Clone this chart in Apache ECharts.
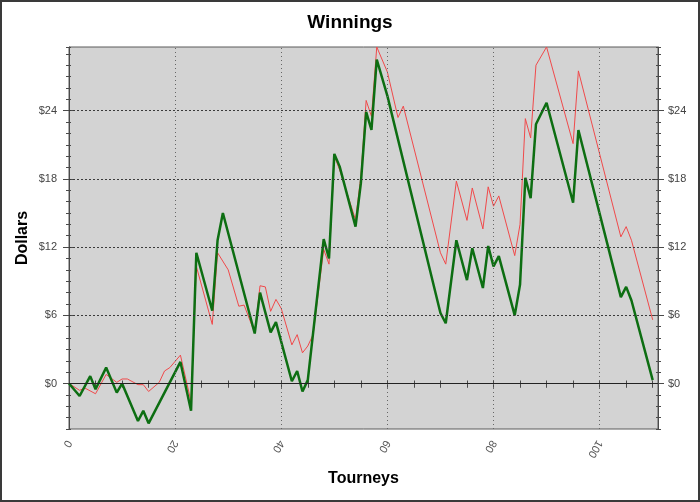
<!DOCTYPE html>
<html>
<head>
<meta charset="utf-8">
<script src="https://cdn.jsdelivr.net/npm/echarts@6/dist/echarts.min.js"></script>
<style>
  html, body { margin: 0; padding: 0; background: #fff; }
  #chart { width: 700px; height: 502px; }
</style>
</head>
<body>
<div id="chart"></div>
<script>
// ---- Data (vertices of each polyline) ----
const chartTitle = 'Winnings';
const xAxisTitle = 'Tourneys';
const yAxisTitle = 'Dollars';

const xTickLabels = [0, 20, 40, 60, 80, 100];
const yTickLabels = [0, 6, 12, 18, 24];

// thick green line
const greenTourneys = [0, 2, 4, 5, 7, 9, 10, 13, 14, 15, 21, 23, 24, 27, 28, 29, 35, 36, 38, 39,
  42, 43, 44, 45, 48, 49, 50, 51, 54, 55, 56, 57, 58, 60, 70, 71, 73, 75, 76, 78,
  79, 80, 81, 84, 85, 86, 87, 88, 90, 95, 96, 104, 105, 106, 110];
const greenDollars = [0, -1.1, 0.65, -0.5, 1.4, -0.8, 0, -3.3, -2.4, -3.5, 1.9, -2.4, 11.5, 6.4, 12.6, 15.0, 4.4, 8.0, 4.5, 5.4,
  0.2, 1.1, -0.7, 0.3, 12.7, 11.0, 20.2, 19.1, 13.8, 17.6, 23.9, 22.3, 28.5, 25.3, 6.2, 5.3, 12.6, 9.1, 11.9, 8.4,
  12.1, 10.3, 11.2, 6.0, 8.7, 18.1, 16.3, 22.8, 24.7, 15.9, 22.3, 7.6, 8.5, 7.3, 0.3];

// thin red line
const redTourneys = [0, 2, 3, 5, 7, 9, 10, 11, 13, 14, 15, 17, 18, 19, 21, 23, 24, 27, 28, 30,
  32, 33, 35, 36, 37, 38, 39, 40, 42, 43, 44, 45, 46, 48, 49, 50, 51, 54, 55, 56,
  57, 58, 60, 62, 63, 70, 71, 73, 75, 76, 78, 79, 80, 81, 84, 85, 86, 87, 88, 90,
  95, 96, 104, 105, 106, 110];
const redDollars = [0, -0.6, -0.4, -0.9, 0.8, 0.1, 0.4, 0.4, -0.1, -0.1, -0.7, 0.1, 1.1, 1.4, 2.5, -1.6, 10.3, 5.2, 11.5, 10.0,
  6.8, 6.9, 4.45, 8.6, 8.5, 6.35, 7.4, 6.6, 3.4, 4.3, 2.7, 3.3, 4.3, 11.8, 10.5, 20.0, 18.8, 14.4, 18.2, 24.9,
  23.5, 29.6, 27.4, 23.4, 24.4, 11.5, 10.5, 17.8, 14.35, 17.2, 13.6, 17.3, 15.6, 16.5, 11.25, 14.0, 23.3, 21.6, 28.0, 29.6,
  21.1, 27.5, 12.9, 13.8, 12.6, 5.6];

// ---- Build option ----
const FONT = 'Liberation Sans, Arial, sans-serif';
const X_MIN = 0, X_MAX = 111, Y_MIN = -4, Y_MAX = 29.6;
const AXIS_COLOR = '#4a4a4a';

const zip = (xs, ys) => xs.map((x, i) => [x, ys[i]]);

function xAx(extra) {
  return Object.assign({
    type: 'value', min: X_MIN, max: X_MAX, interval: 5, gridIndex: 0,
    axisLine: { show: false, lineStyle: { color: AXIS_COLOR } },
    axisTick: { show: true, lineStyle: { color: AXIS_COLOR } },
    axisLabel: { show: false },
    splitLine: { show: false }
  }, extra);
}
function yAx(extra) {
  return Object.assign({
    type: 'value', min: Y_MIN, max: Y_MAX, interval: 1, gridIndex: 0,
    axisLine: { show: false, lineStyle: { color: AXIS_COLOR } },
    axisTick: { show: true, lineStyle: { color: AXIS_COLOR } },
    axisLabel: { show: false },
    splitLine: { show: false }
  }, extra);
}

const yLabelFmt = v => {
  const r = Math.round(v);
  return (Math.abs(v - r) < 1e-6 && yTickLabels.indexOf(r) >= 0) ? '$' + r : '';
};

const option = {
  animation: false,
  backgroundColor: '#ffffff',
  title: {
    text: chartTitle, left: 'center', top: 8,
    textStyle: { fontFamily: FONT, fontSize: 19, fontWeight: 'bold', color: '#000' }
  },
  grid: {
    left: 69, top: 47, width: 589, height: 382,
    show: true, backgroundColor: '#d3d3d3', borderColor: '#5a5a5a', borderWidth: 1
  },
  xAxis: [
    xAx({
      position: 'bottom',
      axisLine: { show: true, lineStyle: { color: AXIS_COLOR } },
      axisTick: { show: true, length: 4, lineStyle: { color: AXIS_COLOR } },
      axisLabel: {
        show: true, rotate: -120, margin: 12, color: '#555', fontFamily: FONT, fontSize: 11,
        formatter: v => {
          const r = Math.round(v);
          return (Math.abs(v - r) < 1e-6 && xTickLabels.indexOf(r) >= 0) ? String(r) : '';
        }
      },
      name: xAxisTitle, nameLocation: 'middle', nameGap: 42,
      nameTextStyle: { fontFamily: FONT, fontSize: 16, fontWeight: 'bold', color: '#000' }
    }),
    xAx({ position: 'bottom', axisTick: { show: true, inside: true, length: 3, lineStyle: { color: AXIS_COLOR } } }),
    xAx({ position: 'top', axisTick: { show: true, inside: true, length: 4, lineStyle: { color: AXIS_COLOR } } })
  ],
  yAxis: [
    yAx({
      position: 'left',
      axisLine: { show: true, lineStyle: { color: AXIS_COLOR } },
      axisTick: { show: true, length: 3, lineStyle: { color: AXIS_COLOR } },
      axisLabel: { show: true, margin: 12, color: '#444', fontFamily: FONT, fontSize: 11, formatter: yLabelFmt },
      name: yAxisTitle, nameLocation: 'middle', nameGap: 38, nameMoveOverlap: false,
      nameTextStyle: { fontFamily: FONT, fontSize: 16, fontWeight: 'bold', color: '#000' }
    }),
    yAx({ position: 'left', axisTick: { show: true, inside: true, length: 2, lineStyle: { color: AXIS_COLOR } } }),
    yAx({ position: 'left', axisTick: { show: true, length: 6, customValues: yTickLabels, lineStyle: { color: AXIS_COLOR } } }),
    yAx({ position: 'left', axisTick: { show: true, inside: true, length: 6, customValues: yTickLabels, lineStyle: { color: AXIS_COLOR } } }),
    yAx({
      position: 'right',
      axisLine: { show: true, lineStyle: { color: AXIS_COLOR } },
      axisTick: { show: true, length: 3, lineStyle: { color: AXIS_COLOR } },
      axisLabel: { show: true, margin: 10, color: '#444', fontFamily: FONT, fontSize: 11, formatter: yLabelFmt }
    }),
    yAx({ position: 'right', axisTick: { show: true, inside: true, length: 2, lineStyle: { color: AXIS_COLOR } } }),
    yAx({ position: 'right', axisTick: { show: true, length: 6, customValues: yTickLabels, lineStyle: { color: AXIS_COLOR } } }),
    yAx({ position: 'right', axisTick: { show: true, inside: true, length: 6, customValues: yTickLabels, lineStyle: { color: AXIS_COLOR } } })
  ],
  series: [
    {
      // grid lines + zero line
      type: 'line', xAxisIndex: 0, yAxisIndex: 0, data: [], z: 1, silent: true,
      markLine: {
        silent: true, symbol: 'none', label: { show: false }, animation: false,
        lineStyle: { color: '#3a3a3a', type: [2, 2], width: 1 },
        data: yTickLabels.filter(v => v !== 0).map(v => ({ yAxis: v }))
          .concat(xTickLabels.filter(v => v !== 0).map(v => ({ xAxis: v, lineStyle: { color: '#666', type: [1, 3], width: 1 } })))
          .concat([{ yAxis: 0, lineStyle: { color: '#222', type: 'solid', width: 1 } }])
      }
    },
    {
      name: 'Red', type: 'line', xAxisIndex: 0, yAxisIndex: 0, z: 3,
      data: zip(redTourneys, redDollars),
      symbol: 'none', showSymbol: false, silent: true,
      lineStyle: { color: '#f0494a', width: 1 }
    },
    {
      name: 'Green', type: 'line', xAxisIndex: 0, yAxisIndex: 0, z: 4,
      data: zip(greenTourneys, greenDollars),
      symbol: 'none', showSymbol: false, silent: true,
      lineStyle: { color: '#0d6e12', width: 2.5 }
    }
  ],
  graphic: [
    {
      type: 'rect', z: 100, silent: true,
      shape: { x: 1, y: 1, width: 698, height: 500 },
      style: { fill: 'none', stroke: '#3a3a3a', lineWidth: 2 }
    }
  ]
};

const chart = echarts.init(document.getElementById('chart'), null, { renderer: 'canvas' });
chart.setOption(option);
</script>
</body>
</html>
